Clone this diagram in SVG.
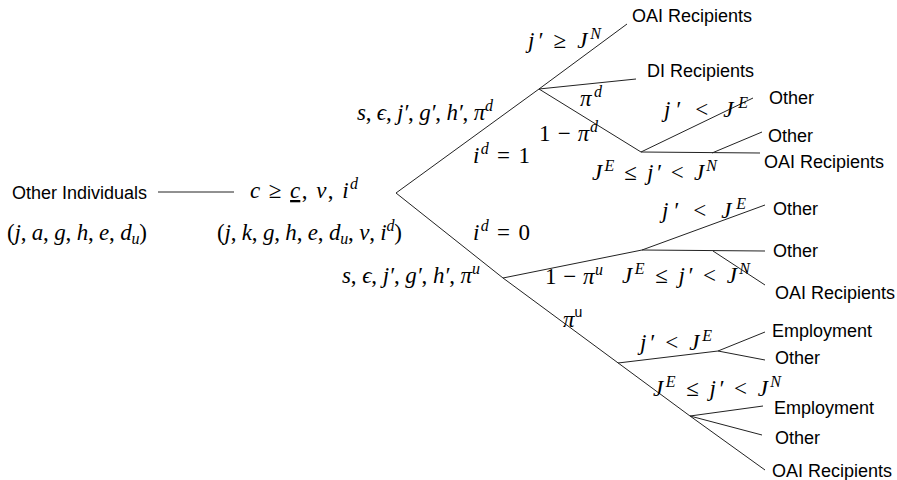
<svg xmlns="http://www.w3.org/2000/svg" width="897" height="480" viewBox="0 0 897 480">
<style>
.l{font-family:"Liberation Sans",Arial,sans-serif;font-size:18px;fill:#000}
.m{font-family:"Liberation Serif","DejaVu Serif",serif;font-style:italic;font-size:23px;fill:#000}
.r{font-style:normal}
.s{font-size:16px}
.su{font-family:"Liberation Sans",Arial,sans-serif;font-style:normal;font-size:14px}
.c line,.c polyline{stroke:#222;stroke-width:1;fill:none}
</style>
<rect width="897" height="480" fill="#fff"/>
<g class="c" id="connectors">
<line x1="158" y1="192" x2="234" y2="192"/>
<polyline points="627,24 539,89 396,193 503,278 690,416 765,470"/>
<line x1="539" y1="89" x2="636" y2="79"/>
<line x1="539" y1="89" x2="641" y2="152"/>
<line x1="641" y1="152" x2="753" y2="98"/>
<line x1="641" y1="152" x2="760" y2="153"/>
<line x1="712" y1="153" x2="762" y2="132"/>
<line x1="503" y1="278" x2="642" y2="250"/>
<line x1="642" y1="250" x2="765" y2="205"/>
<line x1="642" y1="250" x2="765" y2="251"/>
<line x1="713" y1="251" x2="765" y2="285"/>
<line x1="618" y1="363" x2="718" y2="351"/>
<line x1="718" y1="351" x2="765" y2="332"/>
<line x1="718" y1="351" x2="765" y2="360"/>
<line x1="690" y1="416" x2="763" y2="406"/>
<line x1="690" y1="416" x2="762" y2="435"/>
</g>
<g id="root">
<text class="l" x="12" y="199">Other Individuals</text>
<text class="m" x="7" y="240" textLength="140" lengthAdjust="spacing"><tspan class="r">(</tspan>j<tspan class="r">, </tspan>a<tspan class="r">, </tspan>g<tspan class="r">, </tspan>h<tspan class="r">, </tspan>e<tspan class="r">, </tspan>d<tspan class="s" dy="4">u</tspan><tspan class="r" dy="-4">)</tspan></text>
</g>
<g id="state">
<text class="m" x="250" y="198" textLength="108" lengthAdjust="spacing">c<tspan class="r"> ≥ </tspan><tspan text-decoration="underline">c</tspan><tspan class="r">, </tspan>v<tspan class="r">, </tspan>i<tspan class="s" dy="-9">d</tspan></text>
<text class="m" x="217" y="240" textLength="185" lengthAdjust="spacing"><tspan class="r">(</tspan>j<tspan class="r">, </tspan>k<tspan class="r">, </tspan>g<tspan class="r">, </tspan>h<tspan class="r">, </tspan>e<tspan class="r">, </tspan>d<tspan class="s" dy="4">u</tspan><tspan class="r" dy="-4">, </tspan>v<tspan class="r">, </tspan>i<tspan class="s" dy="-9">d</tspan><tspan class="r" dy="9">)</tspan></text>
</g>
<g id="disability-branch">
<text class="m" x="357" y="120" textLength="136" lengthAdjust="spacing">s<tspan class="r">, </tspan>ϵ<tspan class="r">, </tspan>j′<tspan class="r">, </tspan>g′<tspan class="r">, </tspan>h′<tspan class="r">, </tspan>π<tspan class="s" dy="-9">d</tspan></text>
<text class="m" x="473" y="163" textLength="57" lengthAdjust="spacing">i<tspan class="s" dy="-9">d</tspan><tspan class="r" dy="9"> = 1</tspan></text>
</g>
<g id="high-j">
<text class="m" x="528" y="48" textLength="73" lengthAdjust="spacing">j′<tspan class="r"> ≥ </tspan>J<tspan class="s" dy="-9">N</tspan></text>
<text class="l" x="632" y="22">OAI Recipients</text>
</g>
<g id="di-node">
<text class="m" x="580" y="106" textLength="22" lengthAdjust="spacing">π<tspan class="s" dy="-9">d</tspan></text>
<text class="l" x="647" y="77">DI Recipients</text>
</g>
<g id="not-di-node">
<text class="m" x="539" y="141" textLength="59" lengthAdjust="spacing"><tspan class="r">1 − </tspan>π<tspan class="s" dy="-9">d</tspan></text>
<text class="m" x="664" y="117" textLength="84" lengthAdjust="spacing">j′<tspan class="r"> &lt; </tspan>J<tspan class="s" dy="-9">E</tspan></text>
<text class="m" x="592" y="180" textLength="125" lengthAdjust="spacing">J<tspan class="s" dy="-9">E</tspan><tspan class="r" dy="9"> ≤ </tspan>j′<tspan class="r"> &lt; </tspan>J<tspan class="s" dy="-9">N</tspan></text>
<text class="l" x="769" y="104">Other</text>
<text class="l" x="768" y="142">Other</text>
<text class="l" x="764" y="168">OAI Recipients</text>
</g>
<g id="no-disability-branch">
<text class="m" x="473" y="240" textLength="57" lengthAdjust="spacing">i<tspan class="s" dy="-9">d</tspan><tspan class="r" dy="9"> = 0</tspan></text>
<text class="m" x="342" y="283" textLength="138" lengthAdjust="spacing">s<tspan class="r">, </tspan>ϵ<tspan class="r">, </tspan>j′<tspan class="r">, </tspan>g′<tspan class="r">, </tspan>h′<tspan class="r">, </tspan>π<tspan class="s" dy="-9">u</tspan></text>
</g>
<g id="not-u-node">
<text class="m" x="545" y="284" textLength="58" lengthAdjust="spacing"><tspan class="r">1 − </tspan>π<tspan class="s" dy="-9">u</tspan></text>
<text class="m" x="662" y="218" textLength="84" lengthAdjust="spacing">j′<tspan class="r"> &lt; </tspan>J<tspan class="s" dy="-9">E</tspan></text>
<text class="m" x="622" y="283" textLength="128" lengthAdjust="spacing">J<tspan class="s" dy="-9">E</tspan><tspan class="r" dy="9"> ≤ </tspan>j′<tspan class="r"> &lt; </tspan>J<tspan class="s" dy="-9">N</tspan></text>
<text class="l" x="773" y="215">Other</text>
<text class="l" x="773" y="257">Other</text>
<text class="l" x="775" y="299">OAI Recipients</text>
</g>
<g id="u-node">
<text class="m" x="563" y="327">π<tspan class="su" dy="-10">u</tspan></text>
<text class="m" x="640" y="350" textLength="72" lengthAdjust="spacing">j′<tspan class="r"> &lt; </tspan>J<tspan class="s" dy="-9">E</tspan></text>
<text class="m" x="653" y="396" textLength="128" lengthAdjust="spacing">J<tspan class="s" dy="-9">E</tspan><tspan class="r" dy="9"> ≤ </tspan>j′<tspan class="r"> &lt; </tspan>J<tspan class="s" dy="-9">N</tspan></text>
<text class="l" x="772" y="337">Employment</text>
<text class="l" x="775" y="364">Other</text>
<text class="l" x="774" y="414">Employment</text>
<text class="l" x="775" y="444">Other</text>
<text class="l" x="772" y="477">OAI Recipients</text>
</g>
</svg>
